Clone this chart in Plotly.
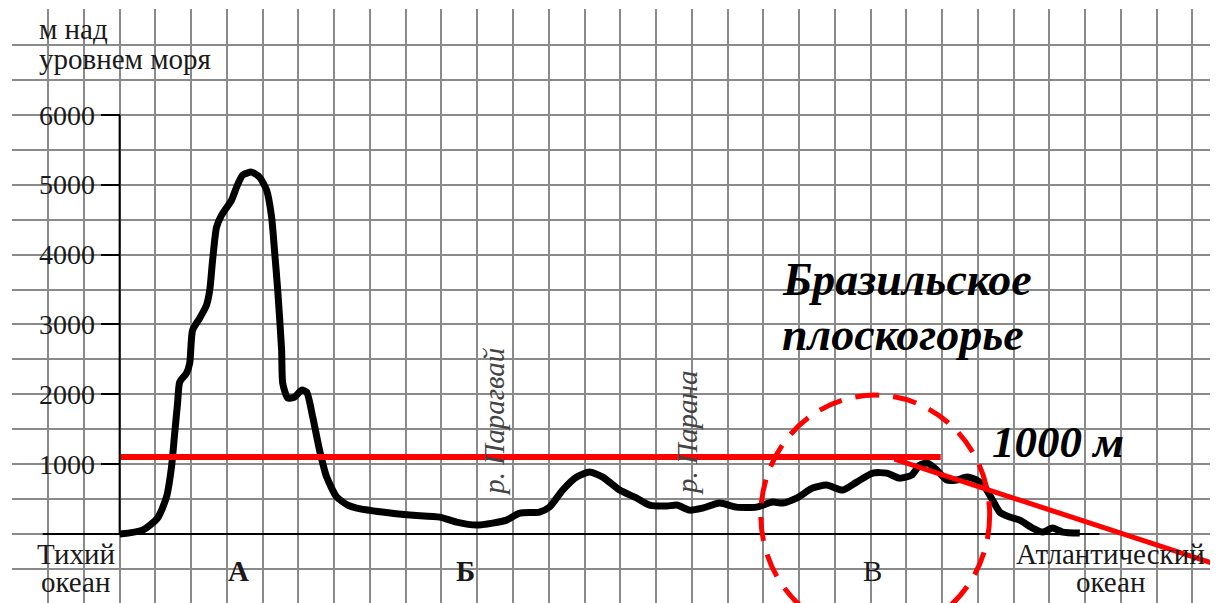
import plotly.graph_objects as go

# profile: distance in grid cells from the vertical axis, elevation in metres
distance = [0, 0.64, 1.06, 1.31, 1.45, 1.54, 1.62, 1.68, 1.87, 1.96, 2.04, 2.24, 2.43, 2.52,
            2.60, 2.71, 2.85, 3.13, 3.27, 3.44, 3.69, 3.91, 4.11, 4.25, 4.33, 4.42, 4.53,
            4.56, 4.70, 4.89, 5.09, 5.23, 5.40, 5.59, 5.79, 6.07, 6.38, 6.63, 7.35, 8.11,
            8.95, 9.42, 9.98, 10.43, 10.82, 11.19, 11.74, 12.02, 12.39, 12.78, 13.14, 13.51,
            13.98, 14.46, 14.82, 15.30, 15.58, 15.94, 16.30, 16.78, 17.25, 17.81, 18.26,
            18.54, 18.93, 19.38, 19.77, 20.22, 20.61, 21.06, 21.45, 21.81, 22.15, 22.37,
            22.60, 22.85, 23.13, 23.41, 23.69, 23.97, 24.19, 24.41, 24.61, 24.89, 25.17,
            25.53, 25.81, 26.09, 26.37, 26.85]
elevation = [0, 57, 229, 530, 959, 1445, 1875, 2175, 2304, 2447, 2919, 3091, 3277, 3492,
             3921, 4393, 4565, 4780, 4966, 5137, 5180, 5109, 4923, 4536, 4064, 3492, 2633,
             2161, 1946, 1960, 2061, 2032, 1674, 1202, 816, 530, 415, 372, 315, 272,
             243, 172, 129, 157, 200, 300, 315, 386, 630, 816, 887, 816,
             630, 515, 415, 401, 415, 343, 372, 444, 386, 386, 458,
             444, 515, 658, 701, 630, 744, 873, 873, 801, 844, 987,
             1016, 916, 773, 773, 816, 773, 673, 487, 315, 243, 200,
             86, 29, 86, 29, 14]

# red construction lines drawn on top of the profile
level_x = [0.03, 22.96]
level_y = [1102, 1102]
slope_x = [21.67, 31.3]
slope_y = [1073, -540]

y_ticks = [1000, 2000, 3000, 4000, 5000, 6000]

x_range = [-3.01, 30.715]
y_range = [-986, 7514]

serif = "Liberation Serif, Times New Roman, serif"
ink = "#1a1a1a"

fig = go.Figure()

fig.add_trace(go.Scatter(
    x=distance, y=elevation, mode="lines",
    line=dict(color="black", width=7, shape="spline", smoothing=0.6),
    hoverinfo="skip"
))
fig.add_trace(go.Scatter(
    x=level_x, y=level_y, mode="lines",
    line=dict(color="#ff0000", width=6), hoverinfo="skip"
))
fig.add_trace(go.Scatter(
    x=slope_x, y=slope_y, mode="lines",
    line=dict(color="#ff0000", width=5), hoverinfo="skip"
))
fig.add_trace(go.Scatter(x=[None], y=[None], yaxis="y2", showlegend=False))

# axis lines of the profile
fig.add_shape(type="line", x0=0, x1=0, y0=0, y1=6000, xref="x", yref="y",
              line=dict(color="black", width=2))
fig.add_shape(type="line", x0=-2.15, x1=27.4, y0=0, y1=0, xref="x", yref="y",
              line=dict(color="black", width=2))

# dashed circle round the plateau
fig.add_shape(type="circle", x0=17.93, x1=24.33, y0=-1445, y1=1989, xref="x", yref="y",
              line=dict(color="#ff0000", width=5, dash="24px,14px"))

def label(text, x, y, size=29, anchor="left", bold=False, italic=False, angle=0, color=ink):
    if bold:
        text = "<b>" + text + "</b>"
    if italic:
        text = "<i>" + text + "</i>"
    fig.add_annotation(x=x, y=y, xref="x", yref="y", text=text, showarrow=False,
                       xanchor=anchor, yanchor="middle", textangle=angle,
                       font=dict(family=serif, size=size, color=color))

label("м над", -2.32, 7227)
label("уровнем моря", -2.32, 6797)
label("Тихий", -1.23, -286, anchor="center")
label("океан", -1.23, -680, anchor="center")
label("А", 3.33, -529, anchor="center", bold=True)
label("Б", 9.68, -529, anchor="center", bold=True)
label("В", 21.06, -529, anchor="center")
label("Атлантический", 27.71, -286, anchor="center")
label("океан", 27.71, -680, anchor="center")
label("р. Парагвай", 10.46, 1617, size=29, anchor="center", italic=True, angle=-90, color="#444")
label("р. Парана", 15.86, 1445, size=29, anchor="center", italic=True, angle=-90, color="#444")
label("Бразильское", 18.46, 3649, size=46, bold=True, italic=True, color="black")
label("плоскогорье", 18.46, 2862, size=46, bold=True, italic=True, color="black")
label("1000 м", 24.33, 1317, size=45, bold=True, italic=True, color="black")

grid = dict(showgrid=True, gridcolor="#8a8a8a", gridwidth=2, zeroline=False,
            showticklabels=False, ticks="", showline=False)

# the page body adds 8px around the figure, so the figure is 8px smaller
fig.update_layout(
    width=1210, height=595,
    margin=dict(l=4, r=0, t=1, b=0),
    paper_bgcolor="white", plot_bgcolor="white",
    showlegend=False,
    xaxis=dict(range=x_range, dtick=1, tick0=0, **grid),
    yaxis=dict(range=y_range, dtick=500, tick0=0, **grid),
    yaxis2=dict(
        range=y_range, overlaying="y", anchor="free",
        position=(0 - x_range[0]) / (x_range[1] - x_range[0]),
        side="left", tickvals=y_ticks, ticks="outside", ticklen=19,
        tickwidth=2, tickcolor="black", showgrid=False, zeroline=False, showline=False,
        tickfont=dict(family=serif, size=28, color=ink)
    ),
)

fig.write_html("out.html")
